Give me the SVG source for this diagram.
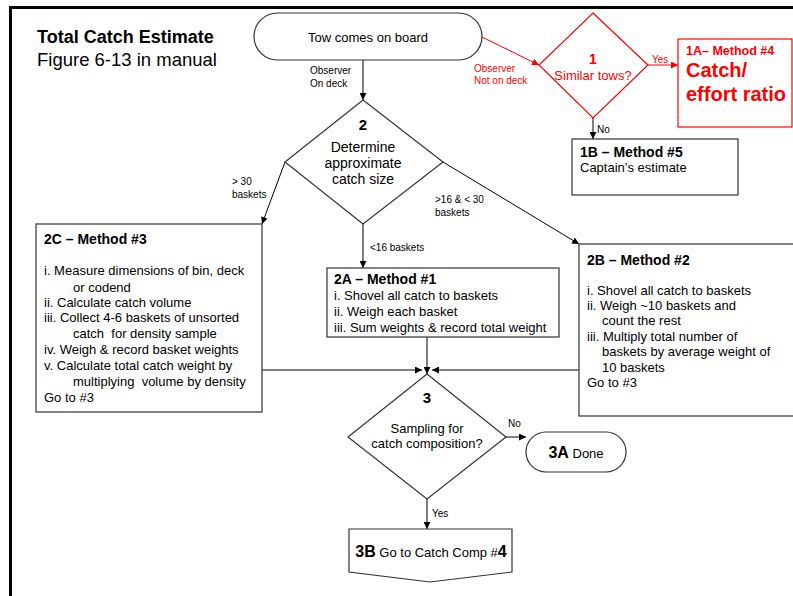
<svg xmlns="http://www.w3.org/2000/svg" width="793" height="596" viewBox="0 0 793 596">
<defs>
<marker id="ah" viewBox="0 0 10 10" refX="10" refY="5" markerWidth="7" markerHeight="7" markerUnits="userSpaceOnUse" orient="auto"><path d="M0,0 L10,5 L0,10 z" fill="#000"/></marker>
<marker id="ahr" viewBox="0 0 10 10" refX="10" refY="5" markerWidth="7" markerHeight="7" markerUnits="userSpaceOnUse" orient="auto"><path d="M0,0 L10,5 L0,10 z" fill="#f00"/></marker>
</defs>
<style>
text{font-family:"Liberation Sans",Arial,sans-serif;fill:#000;white-space:pre}
.box{fill:#fff;stroke:#333;stroke-width:1.2}
.red{fill:#fff;stroke:#f00;stroke-width:1.2}
.ln{fill:none;stroke:#000;stroke-width:1}
.lnr{fill:none;stroke:#f00;stroke-width:1}
.b{font-weight:bold}
.s10{font-size:10px}
.s13{font-size:13px}
.s14{font-size:14px}
.rt{fill:#f00}
.c{text-anchor:middle}
</style>
<rect width="793" height="596" fill="#fff"/>
<rect x="10.5" y="7.5" width="900" height="700" fill="none" stroke="#000" stroke-width="3"/>
<g id="title">
<text x="37" y="43" class="b" font-size="18">Total Catch Estimate</text>
<text x="37" y="66" font-size="18.5">Figure 6-13 in manual</text>
</g>
<g id="connectors">
<line class="ln" x1="363" y1="60" x2="363" y2="100" marker-end="url(#ah)"/>
<text x="310" y="74" class="s10">Observer</text>
<text x="310" y="87" class="s10">On deck</text>
<line class="lnr" x1="482" y1="37" x2="539" y2="65" marker-end="url(#ahr)"/>
<text x="474" y="72" class="s10 rt">Observer</text>
<text x="474" y="84" class="s10 rt">Not on deck</text>
<line class="lnr" x1="648" y1="65" x2="678" y2="65" marker-end="url(#ahr)"/>
<text x="652" y="63" class="s10 rt">Yes</text>
<line class="ln" x1="593" y1="118" x2="593" y2="139" marker-end="url(#ah)"/>
<text x="597" y="133" class="s10">No</text>
<line class="ln" x1="285" y1="162" x2="262" y2="224" marker-end="url(#ah)"/>
<text x="232" y="185" class="s10">&gt; 30</text>
<text x="232" y="198" class="s10">baskets</text>
<line class="ln" x1="443" y1="162" x2="579" y2="244" marker-end="url(#ah)"/>
<text x="435" y="203" class="s10">&gt;16 &amp; &lt; 30</text>
<text x="435" y="216" class="s10">baskets</text>
<line class="ln" x1="363" y1="224" x2="363" y2="268" marker-end="url(#ah)"/>
<text x="370" y="251" class="s10">&lt;16 baskets</text>
<line class="ln" x1="427" y1="337" x2="427" y2="374" marker-end="url(#ah)"/>
<line class="ln" x1="262" y1="370" x2="422" y2="370" marker-end="url(#ah)"/>
<line class="ln" x1="579" y1="370" x2="432" y2="370" marker-end="url(#ah)"/>
<line class="ln" x1="506" y1="437" x2="526" y2="437" marker-end="url(#ah)"/>
<text x="508" y="427" class="s10">No</text>
<line class="ln" x1="427" y1="499" x2="427" y2="529" marker-end="url(#ah)"/>
<text x="432" y="517" class="s10">Yes</text>
</g>
<g id="start">
<rect class="box" x="254" y="13" width="228" height="47" rx="23.5"/>
<text x="368" y="42" class="s13 c">Tow comes on board</text>
</g>
<g id="d1">
<path class="red" d="M593,13 L648,65 L593,118 L539,65 Z"/>
<text x="593" y="64" class="s14 b rt c">1</text>
<text x="593" y="80" class="s13 rt c">Similar tows?</text>
</g>
<g id="m1a">
<rect class="red" x="678" y="39" width="114" height="88"/>
<text x="686" y="55" class="b rt" font-size="12.5">1A– Method #4</text>
<text x="686" y="77" class="b rt" font-size="20">Catch/</text>
<text x="686" y="101" class="b rt" font-size="20">effort ratio</text>
</g>
<g id="m1b">
<rect class="box" x="572" y="139" width="166" height="56"/>
<text x="580" y="157" class="s14 b">1B – Method #5</text>
<text x="580" y="172" class="s13">Captain’s estimate</text>
</g>
<g id="d2">
<path class="box" d="M363,100 L443,162 L363,224 L285,162 Z"/>
<text x="363" y="130" class="b c" font-size="15">2</text>
<text x="363" y="152" class="s14 c">Determine</text>
<text x="363" y="168" class="s14 c">approximate</text>
<text x="363" y="184" class="s14 c">catch size</text>
</g>
<g id="m2c">
<rect class="box" x="36" y="224" width="226" height="188"/>
<text x="44" y="244" class="s14 b">2C – Method #3</text>
<text x="44" y="275" class="s13">i. Measure dimensions of bin, deck</text>
<text x="73" y="292" class="s13">or codend</text>
<text x="44" y="307" class="s13">ii. Calculate catch volume</text>
<text x="44" y="322" class="s13">iii. Collect 4-6 baskets of unsorted</text>
<text x="73" y="338" class="s13">catch  for density sample</text>
<text x="44" y="354" class="s13">iv. Weigh &amp; record basket weights</text>
<text x="44" y="370" class="s13">v. Calculate total catch weight by</text>
<text x="73" y="386" class="s13">multiplying  volume by density</text>
<text x="44" y="402" class="s13">Go to #3</text>
</g>
<g id="m2a">
<rect class="box" x="327" y="268" width="232" height="69"/>
<text x="334" y="284" class="s14 b">2A – Method #1</text>
<text x="334" y="300" class="s13">i. Shovel all catch to baskets</text>
<text x="334" y="316" class="s13">ii. Weigh each basket</text>
<text x="334" y="332" class="s13">iii. Sum weights &amp; record total weight</text>
</g>
<g id="m2b">
<rect class="box" x="579" y="244" width="230" height="172"/>
<text x="587" y="265" class="s14 b">2B – Method #2</text>
<text x="587" y="295" class="s13">i. Shovel all catch to baskets</text>
<text x="587" y="310" class="s13">ii. Weigh ~10 baskets and</text>
<text x="602" y="325" class="s13">count the rest</text>
<text x="587" y="341" class="s13">iii. Multiply total number of</text>
<text x="602" y="356" class="s13">baskets by average weight of</text>
<text x="602" y="372" class="s13">10 baskets</text>
<text x="587" y="387" class="s13">Go to #3</text>
</g>
<g id="d3">
<path class="box" d="M427,374 L506,437 L427,499 L348,437 Z"/>
<text x="427" y="403" class="b c" font-size="15">3</text>
<text x="427" y="433" class="s13 c">Sampling for</text>
<text x="427" y="448" class="s13 c">catch composition?</text>
</g>
<g id="done">
<rect class="box" x="526" y="432" width="100" height="40" rx="20"/>
<text x="576" y="458" class="s13 c"><tspan class="b" font-size="16">3A</tspan> Done</text>
</g>
<g id="m3b">
<path class="box" d="M349,529 L512,529 L512,572 L430,582 L349,572 Z"/>
<text x="431" y="557" class="s13 c"><tspan class="b" font-size="16">3B</tspan> Go to Catch Comp #<tspan class="b" font-size="16">4</tspan></text>
</g>
</svg>
